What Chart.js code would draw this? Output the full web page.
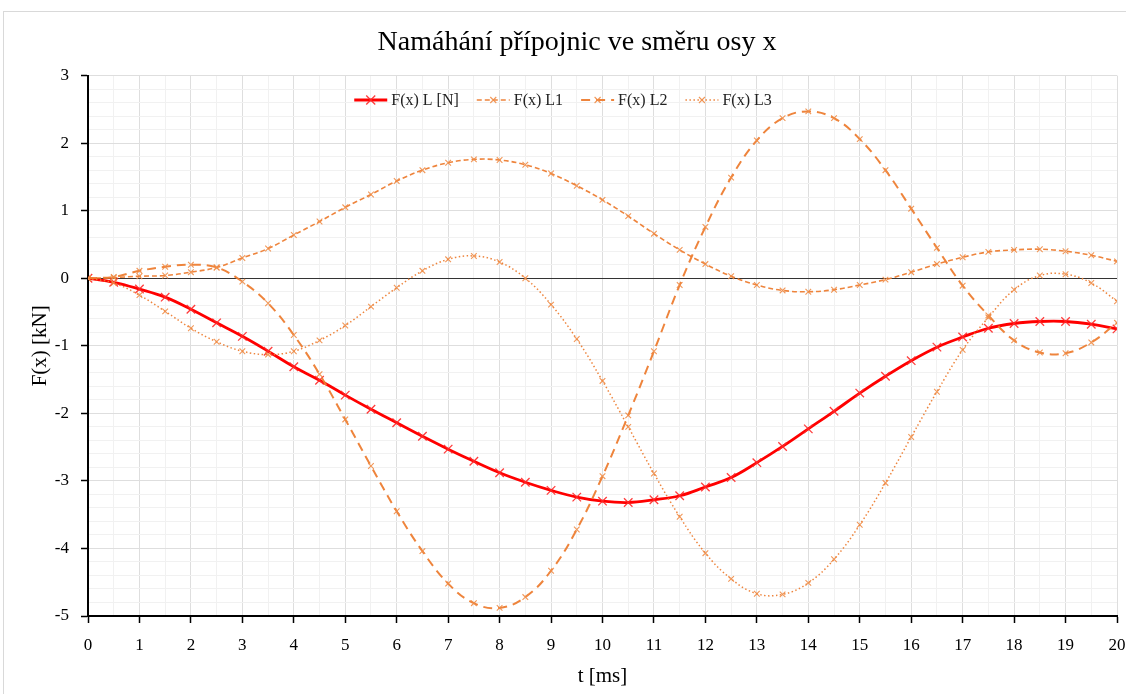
<!DOCTYPE html>
<html>
<head>
<meta charset="utf-8">
<script src="https://cdn.jsdelivr.net/npm/chart.js@4.4.0/dist/chart.umd.min.js"></script>
<style>
  html, body { margin: 0; padding: 0; background: #fff; }
  #wrap { position: relative; width: 1126px; height: 694px; }
</style>
</head>
<body>
<div id="wrap"><canvas id="chart"></canvas></div>
<script>
// time axis [ms]
const T = [0, 0.5, 1, 1.5, 2, 2.5, 3, 3.5, 4, 4.5, 5, 5.5, 6, 6.5, 7, 7.5, 8, 8.5, 9, 9.5,
           10, 10.5, 11, 11.5, 12, 12.5, 13, 13.5, 14, 14.5, 15, 15.5, 16, 16.5, 17, 17.5,
           18, 18.5, 19, 19.5, 20];

// F(x) [kN]
const fL  = [0, -0.06, -0.16, -0.28, -0.46, -0.66, -0.86, -1.08, -1.31, -1.51, -1.73, -1.94, -2.14,
             -2.34, -2.53, -2.71, -2.88, -3.02, -3.14, -3.24, -3.30, -3.32, -3.28, -3.22, -3.09,
             -2.95, -2.73, -2.49, -2.23, -1.97, -1.70, -1.45, -1.22, -1.02, -0.87, -0.74, -0.67,
             -0.64, -0.64, -0.68, -0.75];
const fL1 = [0, 0.01, 0.03, 0.04, 0.09, 0.16, 0.30, 0.44, 0.64, 0.84, 1.05, 1.24, 1.44, 1.60, 1.71,
             1.76, 1.75, 1.68, 1.55, 1.37, 1.16, 0.92, 0.66, 0.42, 0.21, 0.03, -0.10, -0.18, -0.20,
             -0.17, -0.10, -0.02, 0.09, 0.21, 0.31, 0.39, 0.42, 0.43, 0.40, 0.34, 0.25];
const fL2 = [0, 0.02, 0.11, 0.17, 0.20, 0.16, -0.05, -0.37, -0.84, -1.42, -2.09, -2.78, -3.45, -4.04,
             -4.52, -4.81, -4.88, -4.72, -4.33, -3.72, -2.93, -2.03, -1.08, -0.10, 0.76, 1.49, 2.04,
             2.37, 2.47, 2.37, 2.06, 1.60, 1.03, 0.45, -0.11, -0.55, -0.92, -1.10, -1.11, -0.95, -0.66];
const fL3 = [0, -0.07, -0.25, -0.49, -0.74, -0.94, -1.08, -1.13, -1.08, -0.92, -0.70, -0.42, -0.14,
             0.11, 0.28, 0.33, 0.24, 0.00, -0.39, -0.90, -1.52, -2.20, -2.89, -3.53, -4.07, -4.45,
             -4.67, -4.68, -4.51, -4.16, -3.65, -3.03, -2.35, -1.68, -1.06, -0.58, -0.17, 0.04, 0.06,
             -0.07, -0.34];

const LABELS = ['F(x) L [N]', 'F(x) L1', 'F(x) L2', 'F(x) L3'];
const TITLE = 'Namáhání přípojnic ve směru osy x';

// ── styling ──────────────────────────────────────────────────────────────────
const SERIF = '"Liberation Serif", "DejaVu Serif", serif';
const ORANGE = 'rgba(237,125,49,0.95)';
const ORANGE_PT = 'rgba(240,140,70,0.9)';

const isMajor = v => Math.abs(v - Math.round(v)) < 1e-6;
const pts = ys => T.map((t, i) => ({ x: t, y: ys[i] }));

const datasets = [
  { label: LABELS[0], data: pts(fL),  borderColor: '#ff0000', borderWidth: 2.8, borderDash: [],
    pointStyle: 'crossRot', pointRadius: 6, pointBorderColor: 'rgba(255,40,40,0.9)', pointBorderWidth: 1.3 },
  { label: LABELS[1], data: pts(fL1), borderColor: ORANGE, borderWidth: 1.6, borderDash: [5, 3],
    pointStyle: 'crossRot', pointRadius: 4, pointBorderColor: ORANGE_PT, pointBorderWidth: 1.1 },
  { label: LABELS[2], data: pts(fL2), borderColor: ORANGE, borderWidth: 2, borderDash: [9, 6],
    pointStyle: 'crossRot', pointRadius: 4, pointBorderColor: ORANGE_PT, pointBorderWidth: 1.1 },
  { label: LABELS[3], data: pts(fL3), borderColor: ORANGE, borderWidth: 1.5, borderDash: [1.5, 2.5],
    pointStyle: 'crossRot', pointRadius: 4, pointBorderColor: ORANGE_PT, pointBorderWidth: 1.1 },
].map((d, i) => ({ ...d, fill: false, tension: 0.4, order: 4 - i, backgroundColor: d.borderColor }));

// white page + thin frame round the chart
const framePlugin = {
  id: 'frame',
  beforeDraw(chart) {
    const c = chart.ctx;
    c.save();
    c.fillStyle = '#fff';
    c.fillRect(0, 0, chart.width, chart.height);
    c.strokeStyle = '#d9d9d9';
    c.lineWidth = 1;
    c.strokeRect(3.5, 11.5, chart.width + 10, chart.height + 10);
    c.restore();
  },
};

// legend drawn inside the plot area, top centre
const legendPlugin = {
  id: 'insideLegend',
  afterDraw(chart) {
    const c = chart.ctx;
    const y = 100, sampleW = 33, gap = 4, itemGap = 18;
    c.save();
    c.font = '16px ' + SERIF;
    c.textBaseline = 'middle';
    const widths = chart.data.datasets.map(ds => sampleW + gap + c.measureText(ds.label).width);
    const total = widths.reduce((a, b) => a + b, 0) + itemGap * (widths.length - 1);
    let x = chart.width / 2 - total / 2;
    chart.data.datasets.forEach((ds, i) => {
      c.strokeStyle = ds.borderColor;
      c.lineWidth = ds.borderWidth;
      c.setLineDash(ds.borderDash);
      c.beginPath();
      c.moveTo(x, y);
      c.lineTo(x + sampleW, y);
      c.stroke();
      c.setLineDash([]);
      const r = ds.pointRadius * 0.75, cx = x + sampleW / 2;
      c.strokeStyle = ds.pointBorderColor;
      c.lineWidth = ds.pointBorderWidth;
      c.beginPath();
      c.moveTo(cx - r, y - r); c.lineTo(cx + r, y + r);
      c.moveTo(cx - r, y + r); c.lineTo(cx + r, y - r);
      c.stroke();
      c.fillStyle = '#222';
      c.fillText(ds.label, x + sampleW + gap, y + 1);
      x += widths[i] + itemGap;
    });
    c.restore();
  },
};

const tickFont = { family: SERIF, size: 17 };

new Chart(document.getElementById('chart'), {
  type: 'line',
  data: { datasets },
  plugins: [framePlugin, legendPlugin],
  options: {
    responsive: true,
    maintainAspectRatio: false,
    animation: false,
    layout: { padding: { top: 12, left: 28, right: 0, bottom: 5 } },
    plugins: {
      legend: { display: false },
      tooltip: { enabled: false },
      title: {
        display: true,
        text: TITLE,
        color: '#000',
        font: { family: SERIF, size: 28, weight: 'normal' },
        padding: { top: 14, bottom: 16 },
      },
    },
    scales: {
      x: {
        type: 'linear',
        min: 0,
        max: 20,
        afterFit: s => { s.height = 73; s.paddingLeft = 9; s.paddingRight = 9; },
        border: { display: true, color: '#000', width: 2 },
        grid: {
          color: ctx => ctx.tick && isMajor(ctx.tick.value) ? '#dedede' : '#f1f1f1',
          tickColor: ctx => ctx.tick && isMajor(ctx.tick.value) ? '#000' : 'rgba(0,0,0,0)',
          tickLength: 7,
          tickWidth: 1.5,
        },
        ticks: {
          stepSize: 0.5,
          autoSkip: false,
          maxRotation: 0,
          padding: 12,
          color: '#000',
          font: tickFont,
          callback: v => isMajor(v) ? String(Math.round(v)) : '',
        },
        title: {
          display: true,
          text: 't [ms]',
          color: '#000',
          font: { family: SERIF, size: 21 },
          padding: { top: 0, bottom: 0 },
        },
      },
      y: {
        min: -5,
        max: 3,
        afterFit: s => { s.width = 60; },
        border: { display: true, color: '#000', width: 2 },
        grid: {
          color: ctx => {
            if (!ctx.tick) return '#f1f1f1';
            if (Math.abs(ctx.tick.value) < 1e-6) return '#333';
            return isMajor(ctx.tick.value) ? '#dedede' : '#f1f1f1';
          },
          tickColor: ctx => ctx.tick && isMajor(ctx.tick.value) ? '#000' : 'rgba(0,0,0,0)',
          tickLength: 7,
          tickWidth: 1.5,
        },
        ticks: {
          stepSize: 0.2,
          autoSkip: false,
          padding: 12,
          color: '#000',
          font: tickFont,
          callback: v => isMajor(v) ? String(Math.round(v)) : '',
        },
        title: {
          display: true,
          text: 'F(x) [kN]',
          color: '#000',
          font: { family: SERIF, size: 21 },
          padding: { top: 0, bottom: 0 },
        },
      },
    },
  },
});
</script>
</body>
</html>
